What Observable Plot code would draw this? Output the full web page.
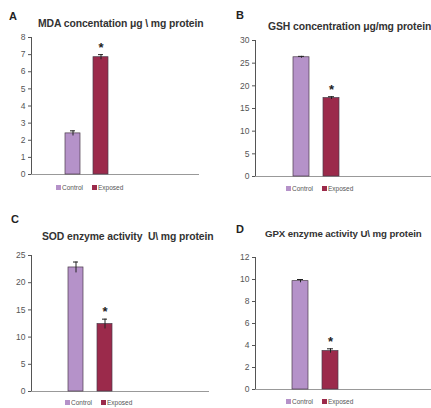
<!DOCTYPE html>
<html><head><meta charset="utf-8">
<script src="https://cdn.jsdelivr.net/npm/d3@7"></script>
<script src="https://cdn.jsdelivr.net/npm/@observablehq/plot@0.6"></script>
<style>
body{margin:0;background:#fff;font-family:"Liberation Sans",Arial,sans-serif}
#root{position:relative;width:431px;height:408px;overflow:hidden;background:#fff}
.abs{position:absolute;white-space:pre;line-height:1}
.letter{font-weight:bold;font-size:11px;color:#222}
.title{font-weight:bold;font-size:10.4px;color:#333;letter-spacing:-0.1px}
.legend{font-size:6.5px;color:#555}
.sw{display:inline-block;width:5px;height:5px;margin-right:1px;vertical-align:0px}
</style></head><body><div id="root"></div>
<script>
// ---- data ----
const groups = ["Control", "Exposed"];
const colors = ["#b592c9", "#9b2a4b"];
const mdaValues = [2.4, 6.85];   const mdaErrors = [0.15, 0.15];
const gshValues = [26.3, 17.3];  const gshErrors = [0.2, 0.3];
const sodValues = [22.8, 12.4];  const sodErrors = [1.0, 0.9];
const gpxValues = [9.85, 3.5];   const gpxErrors = [0.15, 0.2];
const mdaTicks = [0,1,2,3,4,5,6,7,8];
const gshTicks = [0,5,10,15,20,25,30];
const sodTicks = [0,5,10,15,20,25];
const gpxTicks = [0,2,4,6,8,10,12];
const significant = [false, true];

const panels = [
  {letter:"A", title:"MDA concentation μg \\ mg protein", values:mdaValues, errors:mdaErrors, ticks:mdaTicks,
   left:0, top:30, width:215, height:155, mt:7, mb:11, ml:31, mr:16, xr:[65,108],
   letterPos:[9,11], titlePos:[38,19], titleSize:10.4, legendPos:[56,185], legendGap:9},
  {letter:"B", title:"GSH concentration μg/mg protein", values:gshValues, errors:gshErrors, ticks:gshTicks,
   left:215, top:30, width:216, height:155, mt:10, mb:9, ml:40, mr:0, xr:[78,124],
   letterPos:[236,10], titlePos:[268,22], titleSize:10.4, legendPos:[286,186], legendGap:9},
  {letter:"C", title:"SOD enzyme activity  U\\ mg protein", values:sodValues, errors:sodErrors, ticks:sodTicks,
   left:0, top:245, width:215, height:152, mt:10, mb:6, ml:31, mr:6, xr:[68,113],
   letterPos:[11,214], titlePos:[42,232], titleSize:10.4, legendPos:[65,400], legendGap:9},
  {letter:"D", title:"GPX enzyme activity U\\ mg protein", values:gpxValues, errors:gpxErrors, ticks:gpxTicks,
   left:215, top:245, width:216, height:152, mt:12, mb:8, ml:40, mr:0, xr:[77,123],
   letterPos:[236,224], titlePos:[265,229], titleSize:9.7, legendPos:[286,399], legendGap:9}
];

const root = document.getElementById("root");
function addDiv(cls, x, y, html) {
  const d = document.createElement("div");
  d.className = "abs " + cls; d.style.left = x + "px"; d.style.top = y + "px";
  d.innerHTML = html; root.appendChild(d); return d;
}

for (const p of panels) {
  const data = groups.map((g, i) => ({group: g, value: p.values[i], err: p.errors[i], sig: significant[i]}));
  const ymax = p.ticks[p.ticks.length - 1];
  const chart = Plot.plot({
    width: p.width, height: p.height,
    marginTop: p.mt, marginBottom: p.mb, marginLeft: p.ml, marginRight: p.mr,
    style: {fontFamily: "Liberation Sans, Arial, sans-serif", fontSize: "8.5px", color: "#555", background: "transparent"},
    x: {type: "band", domain: groups, range: p.xr, paddingInner: 0.47, paddingOuter: 0, axis: null},
    y: {domain: [0, ymax], ticks: p.ticks, tickSize: 3, tickPadding: 3, label: null, line: true},
    color: {domain: groups, range: colors},
    marks: [
      Plot.ruleY([0], {stroke: "#999", strokeWidth: 1}),
      Plot.barY(data, {x: "group", y: "value", fill: "group", stroke: "#4a3a4a", strokeWidth: 0.7}),
      Plot.ruleX(data, {x: "group", y1: d => d.value - d.err, y2: d => d.value + d.err, stroke: "#222", strokeWidth: 1}),
      Plot.tickY(data, {x: "group", y: d => d.value + d.err, stroke: "#222", strokeWidth: 1, inset: 5}),
      Plot.text(data.filter(d => d.sig), {x: "group", y: d => d.value + d.err, text: () => "*", dy: -3, lineAnchor: "bottom", fontSize: 13, fontWeight: "bold", fill: "#222"})
    ]
  });
  chart.style.position = "absolute";
  chart.style.left = p.left + "px";
  chart.style.top = p.top + "px";
  root.appendChild(chart);

  addDiv("letter", p.letterPos[0], p.letterPos[1], p.letter);
  const t = addDiv("title", p.titlePos[0], p.titlePos[1], p.title);
  t.style.fontSize = p.titleSize + "px";
  const leg = groups.map((g, i) => `<span><span class="sw" style="background:${colors[i]}"></span>${g}</span>`).join(`<span style="display:inline-block;width:${p.legendGap}px"></span>`);
  addDiv("legend", p.legendPos[0], p.legendPos[1], leg);
}
</script></body></html>
